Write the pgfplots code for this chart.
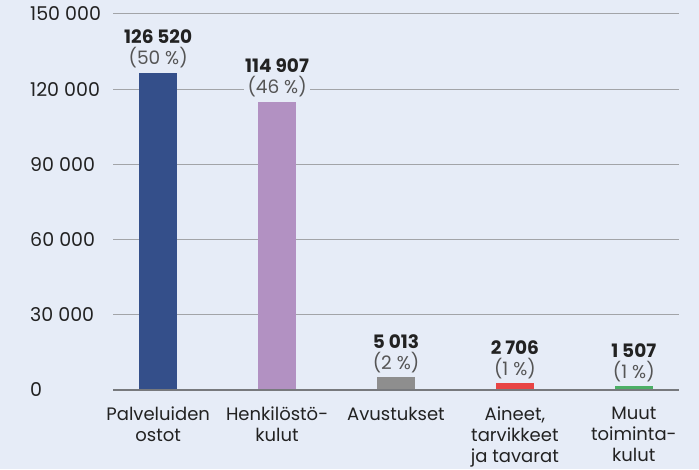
\documentclass[border=0pt]{standalone}
\usepackage{pgfplots}
\pgfplotsset{compat=1.18}
\usepackage{fontspec}
\setmainfont{Poppins}
\definecolor{bg}{HTML}{E6ECF7}
\definecolor{cA}{HTML}{344F8A}
\definecolor{cB}{HTML}{B291C2}
\definecolor{cC}{HTML}{8E8E8E}
\definecolor{cD}{HTML}{E84545}
\definecolor{cE}{HTML}{4CAF66}
\definecolor{gridc}{HTML}{A2A4A8}
\definecolor{zeroc}{HTML}{77797D}
\definecolor{txt}{HTML}{222222}
\definecolor{pct}{HTML}{555555}
\begin{document}
\begin{tikzpicture}[x=1pt,y=1pt]
\fill[bg] (0,0) rectangle (699,469);
\begin{axis}[
  at={(113pt,79pt)}, anchor=south west,
  scale only axis, width=566pt, height=376pt,
  xmin=-0.38, xmax=4.38, ymin=0, ymax=150000,
  clip=false, scaled y ticks=false,
  axis line style={draw=none},
  major tick style={draw=none},
  ymajorgrids, grid style={gridc, line width=1pt},
  ytick={0,30000,60000,90000,120000,150000},
  yticklabels={0,30 000,60 000,90 000,120 000,150 000},
  yticklabel style={anchor=west, xshift=-83pt, inner sep=0pt, text=txt, font=\fontsize{19}{22}\selectfont},
  xtick={0,1,2,3,4},
  xticklabels={{Palveluiden\\ostot},{Henkilöstö-\\kulut},{Avustukset},{Aineet,\\tarvikkeet\\ja tavarat},{Muut\\toiminta-\\kulut}},
  xticklabel style={align=center, anchor=north, yshift=-17pt, inner sep=0pt, text=txt, font=\fontsize{18}{21}\selectfont},
  every axis plot/.append style={ybar, bar width=38pt, bar shift=0pt, draw=none},
  nodes near coords,
  point meta=explicit symbolic,
  every node near coord/.append style={align=center, anchor=south, fill=bg, inner sep=1.5pt, yshift=3pt, text=txt, font=\fontsize{18.5}{21}\selectfont},
]
\addplot[fill=cA] coordinates {(0,126520) [{\textbf{126 520}\\\textcolor{pct}{(50 \%)}}]};
\addplot[fill=cB] coordinates {(1,114907) [{\textbf{114 907}\\\textcolor{pct}{(46 \%)}}]};
\addplot[fill=cC] coordinates {(2,5013) [{\textbf{5 013}\\\textcolor{pct}{(2 \%)}}]};
\addplot[fill=cD] coordinates {(3,2706) [{\textbf{2 706}\\\textcolor{pct}{(1 \%)}}]};
\addplot[fill=cE] coordinates {(4,1507) [{\textbf{1 507}\\\textcolor{pct}{(1 \%)}}]};
\draw[zeroc, line width=1.5pt] (axis cs:-0.38,0) -- (axis cs:4.38,0);
\end{axis}
\pgfresetboundingbox
\useasboundingbox (0,0) rectangle (699,469);
\end{tikzpicture}
\end{document}
